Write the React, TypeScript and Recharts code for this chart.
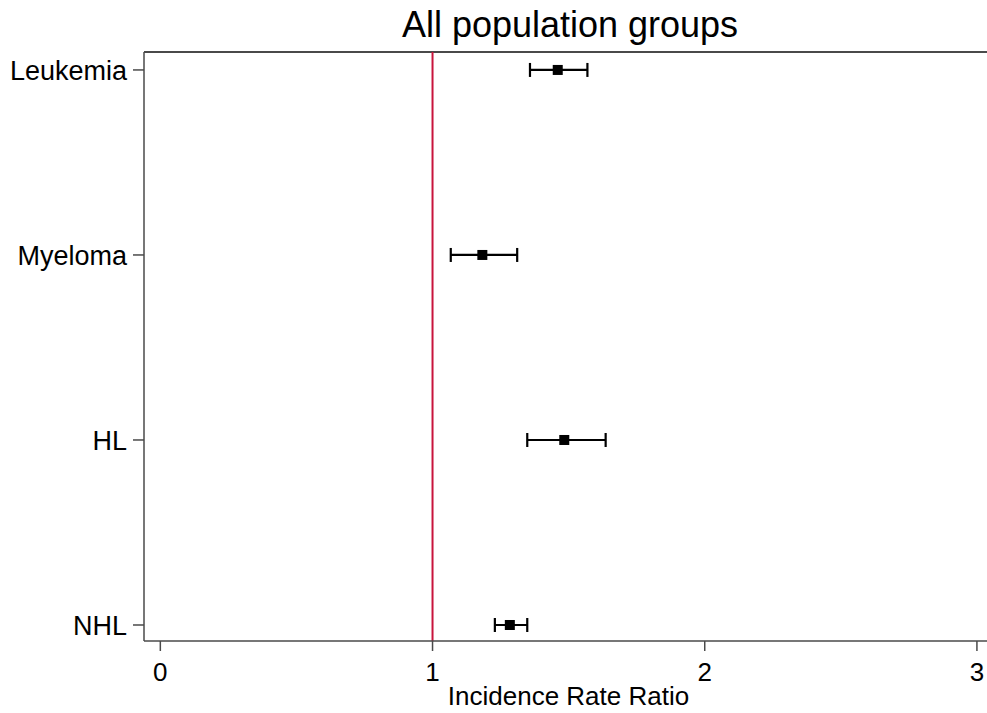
import React from "react";
import {
  ScatterChart,
  Scatter,
  XAxis,
  YAxis,
  ErrorBar,
  ReferenceLine,
} from "recharts";

// Cancer types, top to bottom
const cancerTypes = ["Leukemia", "Myeloma", "HL", "NHL"];
// Incidence rate ratio estimates with 95% CI
const irrEstimate = [1.46, 1.183, 1.484, 1.284];
const irrLower = [1.358, 1.067, 1.348, 1.229];
const irrUpper = [1.569, 1.311, 1.636, 1.348];
const xTicks = [0, 1, 2, 3];

const FONT = "'Liberation Sans', Arial, Helvetica, sans-serif";
const AXIS_COLOR = "#4a4a4a";
const X_DOMAIN: [number, number] = [-0.06, 3.037];
const Y_DOMAIN: [number, number] = [0.9135, 4.097];

const rows = cancerTypes.map((name, i) => ({
  name,
  pos: cancerTypes.length - i,
  irr: irrEstimate[i],
  ci: [irrEstimate[i] - irrLower[i], irrUpper[i] - irrEstimate[i]],
}));

const yTicks = rows.map((r) => r.pos);
const labelFor = (pos: number) => rows.find((r) => r.pos === pos)?.name ?? "";

const SquareDot = (props: any) => {
  const { cx, cy } = props;
  if (cx == null || cy == null) return null;
  return <rect x={cx - 5} y={cy - 5} width={10} height={10} fill="#000" />;
};

export default function App() {
  return (
    <div
      style={{
        position: "absolute",
        left: 0,
        top: 0,
        width: 987,
        height: 713,
        overflow: "hidden",
        background: "#fff",
      }}
    >
      <div
        style={{
          position: "absolute",
          left: 370,
          top: 7,
          width: 400,
          textAlign: "center",
          fontFamily: FONT,
          fontSize: 36,
          lineHeight: "36px",
          color: "#000",
        }}
      >
        All population groups
      </div>
      {/* top frame line of the plot region */}
      <div
        style={{
          position: "absolute",
          left: 144,
          top: 51,
          width: 843,
          height: 2,
          background: AXIS_COLOR,
        }}
      />
      <ScatterChart width={987} height={713} margin={{ top: 52, right: 0, bottom: 0, left: 0 }}>
        <XAxis
          type="number"
          dataKey="irr"
          domain={X_DOMAIN}
          ticks={xTicks}
          allowDataOverflow
          height={72}
          tickSize={10}
          tickMargin={12}
          axisLine={{ stroke: AXIS_COLOR, strokeWidth: 1.5 }}
          tickLine={{ stroke: AXIS_COLOR, strokeWidth: 1.5 }}
          tick={{ fill: "#000", fontSize: 26, fontFamily: FONT }}
          label={{
            value: "Incidence Rate Ratio",
            position: "insideBottom",
            offset: 8,
            dx: 3,
            fill: "#000",
            fontSize: 26,
            fontFamily: FONT,
          }}
        />
        <YAxis
          type="number"
          dataKey="pos"
          domain={Y_DOMAIN}
          ticks={yTicks}
          allowDataOverflow
          width={144}
          tickSize={11}
          tickMargin={6}
          tickFormatter={labelFor}
          axisLine={{ stroke: AXIS_COLOR, strokeWidth: 1.5 }}
          tickLine={{ stroke: AXIS_COLOR, strokeWidth: 1.5 }}
          tick={{ fill: "#000", fontSize: 27, fontFamily: FONT }}
        />
        <ReferenceLine x={1} stroke="#c8143c" strokeWidth={2} />
        <Scatter data={rows} shape={<SquareDot />} isAnimationActive={false}>
          <ErrorBar
            dataKey="ci"
            direction="x"
            width={7}
            stroke="#000"
            strokeWidth={2.2}
            isAnimationActive={false}
          />
        </Scatter>
      </ScatterChart>
    </div>
  );
}
